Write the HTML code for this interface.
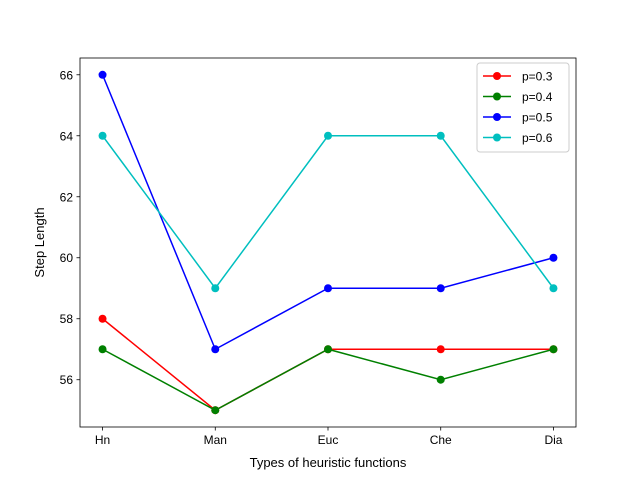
<!DOCTYPE html>
<html><head><meta charset="utf-8"><style>
body{margin:0;background:#fff;}
svg{display:block;font-family:"Liberation Sans","DejaVu Sans",sans-serif;}
</style></head><body>
<svg id="chart" width="640" height="480">
<rect x="0" y="0" width="640" height="480" fill="#fff"/>
<g id="plot"></g>
</svg>
<script>
const categories=["Hn","Man","Euc","Che","Dia"];
const s03=[58,55,57,57,57];
const s04=[57,55,57,56,57];
const s05=[66,57,59,59,60];
const s06=[64,59,64,64,59];
const seriesNames=["p=0.3","p=0.4","p=0.5","p=0.6"];
const yTicks=[56,58,60,62,64,66];
const xLabel="Types of heuristic functions";
const yLabel="Step Length";

const colors=["#ff0000","#008000","#0000ff","#00bfbf"];
const L=80,R=576,T=58,B=427;
const yMin=54.45,yMax=66.55;
function xs(i){return L+(i+0.2)/4.4*(R-L);}
function ys(v){return B-(v-yMin)/(yMax-yMin)*(B-T);}
const NS="http://www.w3.org/2000/svg";
const g=document.getElementById('plot');
function mk(tag,attrs,parent){const e=document.createElementNS(NS,tag);for(const k in attrs)e.setAttribute(k,attrs[k]);(parent||g).appendChild(e);return e;}

const series=[s03,s04,s05,s06];
series.forEach((s,si)=>{
  const pl=mk('polyline',{points:s.map((v,i)=>xs(i)+','+ys(v)).join(' '),fill:'none',stroke:colors[si],'stroke-width':1.5});
  
  
  s.forEach((v,i)=>{
    const c=mk('circle',{cx:xs(i),cy:ys(v),r:4,fill:colors[si]});
    
    
  });
});

const frame=mk('rect',{x:L,y:T,width:R-L,height:B-T,fill:'none',stroke:'#000','stroke-width':0.8});



categories.forEach((c,i)=>{
  mk('line',{x1:xs(i),x2:xs(i),y1:B,y2:B+3.5,stroke:'#000','stroke-width':0.8});
  const t=mk('text',{x:xs(i),y:B+17,'text-anchor':'middle','font-size':12,fill:'#000'});
  t.textContent=c;
  
  
});
yTicks.forEach(v=>{
  mk('line',{x1:L-3.5,x2:L,y1:ys(v),y2:ys(v),stroke:'#000','stroke-width':0.8});
  const t=mk('text',{x:L-7,y:ys(v)+4.5,'text-anchor':'end','font-size':12,fill:'#000'});
  t.textContent=v;
  
  
});
const xt=mk('text',{x:(L+R)/2,y:467,'text-anchor':'middle','font-size':13,fill:'#000'});
xt.textContent=xLabel;


const yt=mk('text',{x:0,y:0,'text-anchor':'middle','font-size':13,fill:'#000',transform:'translate(44,'+((T+B)/2)+') rotate(-90)'});
yt.textContent=yLabel;



const lg=mk('g',{});


mk('rect',{x:477,y:63,width:92,height:89,rx:3,fill:'#fff',stroke:'#ccc','stroke-width':1},lg);
seriesNames.forEach((n,i)=>{
  const y=76+i*20.5;
  const e=mk('g',{},lg);
  
  
  mk('line',{x1:483,x2:511,y1:y,y2:y,stroke:colors[i],'stroke-width':1.5},e);
  mk('circle',{cx:497,cy:y,r:4,fill:colors[i]},e);
  const t=mk('text',{x:522,y:y+4.5,'font-size':12,fill:'#000'},e);
  t.textContent=n;
});
</script>
</body></html>
